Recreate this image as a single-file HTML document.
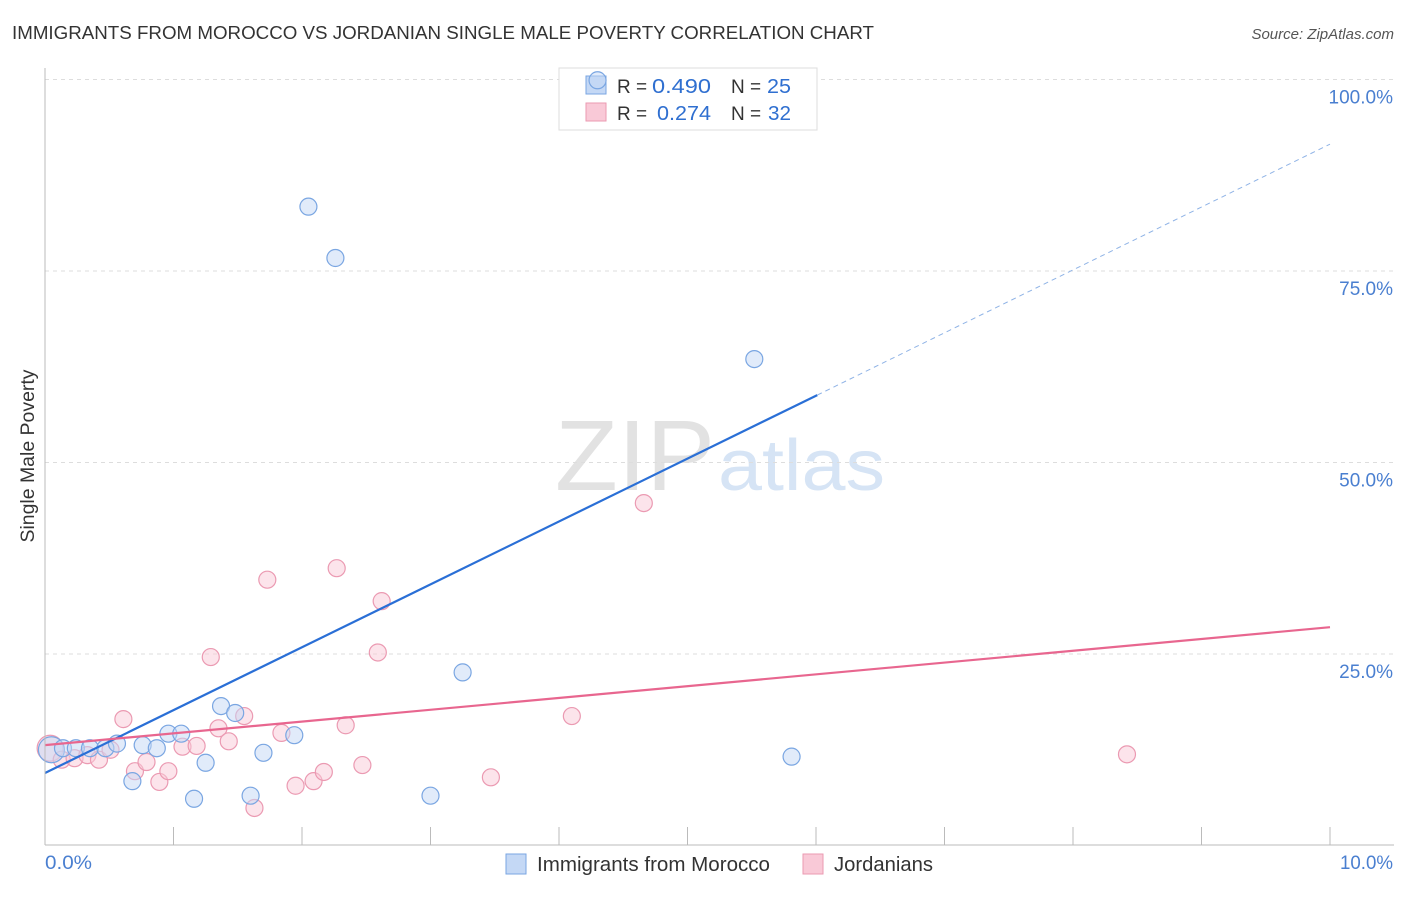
<!DOCTYPE html>
<html><head><meta charset="utf-8"><style>
body{margin:0;background:#fff;font-family:"Liberation Sans",sans-serif;}
svg text{font-family:"Liberation Sans",sans-serif;}
</style></head><body>
<svg id="chart" width="1406" height="892">
<text x="12" y="39" font-size="18" fill="#333" textLength="862" lengthAdjust="spacingAndGlyphs">IMMIGRANTS FROM MOROCCO VS JORDANIAN SINGLE MALE POVERTY CORRELATION CHART</text>
<text x="1394" y="39" font-size="15" fill="#555" font-style="italic" text-anchor="end">Source: ZipAtlas.com</text>
<text x="555" y="490" font-size="100" fill="#e2e2e2" font-family="Liberation Serif" textLength="160" lengthAdjust="spacingAndGlyphs">ZIP</text>
<text x="718" y="490" font-size="72" fill="#d6e4f5" textLength="167" lengthAdjust="spacingAndGlyphs">atlas</text>
<text transform="translate(34,456) rotate(-90)" font-size="19" fill="#333" text-anchor="middle" textLength="173" lengthAdjust="spacingAndGlyphs">Single Male Poverty</text>
<g id="grid"></g>
<g>
<rect x="559" y="68" width="258" height="62" fill="#fff" stroke="#ddd"/>
<rect x="586" y="76" width="20" height="18" fill="#c4d8f5" stroke="#7aa6e2"/>
<rect x="586" y="103" width="20" height="18" fill="#f9c9d7" stroke="#eb9ab2"/>
<text x="617" y="93" font-size="19" fill="#333">R =</text>
<text x="652" y="93" font-size="20" fill="#2f6fd0" textLength="59" lengthAdjust="spacingAndGlyphs">0.490</text>
<text x="731" y="93" font-size="19" fill="#333">N =</text>
<text x="767" y="93" font-size="20" fill="#2f6fd0" textLength="24" lengthAdjust="spacingAndGlyphs">25</text>
<text x="617" y="120" font-size="19" fill="#333">R =</text>
<text x="657" y="120" font-size="20" fill="#2f6fd0" textLength="54" lengthAdjust="spacingAndGlyphs">0.274</text>
<text x="731" y="120" font-size="19" fill="#333">N =</text>
<text x="768" y="120" font-size="20" fill="#2f6fd0" textLength="23" lengthAdjust="spacingAndGlyphs">32</text>
</g>
<g id="marks"></g>
<line x1="45" y1="68" x2="45" y2="845" stroke="#bbb"/>
<line x1="45" y1="845" x2="1394" y2="845" stroke="#bbb"/>
<text x="45" y="869" font-size="19" fill="#4a7fd0" textLength="47" lengthAdjust="spacingAndGlyphs">0.0%</text>
<text x="1340" y="869" font-size="19" fill="#4a7fd0" textLength="53" lengthAdjust="spacingAndGlyphs">10.0%</text>
<g>
<rect x="506" y="854" width="20" height="20" fill="#c4d8f5" stroke="#7aa6e2"/>
<text x="537" y="871" font-size="20" fill="#333" textLength="233" lengthAdjust="spacingAndGlyphs">Immigrants from Morocco</text>
<rect x="803" y="854" width="20" height="20" fill="#f9c9d7" stroke="#eb9ab2"/>
<text x="834" y="871" font-size="20" fill="#333" textLength="99" lengthAdjust="spacingAndGlyphs">Jordanians</text>
</g>
</svg>
<script>
const yTicks=[25,50,75,100];
const yTickLabels=["25.0%","50.0%","75.0%","100.0%"];
const xTicks=[1,2,3,4,5,6,7,8,9,10];
const moroccoX=[0.05,0.14,0.24,0.35,0.47,0.56,0.68,0.76,0.87,0.96,1.06,1.16,1.25,1.37,1.48,1.60,1.70,1.94,2.05,2.26,3.00,3.25,5.52,5.81,4.30];
const moroccoY=[12.5,12.7,12.7,12.7,12.7,13.3,8.4,13.1,12.7,14.6,14.6,6.1,10.8,18.2,17.3,6.5,12.1,14.4,83.4,76.7,6.5,22.6,63.5,11.6,99.9];
const jordanX=[0.04,0.13,0.23,0.33,0.42,0.51,0.61,0.70,0.79,0.89,0.96,1.07,1.18,1.29,1.35,1.43,1.55,1.63,1.73,1.84,1.95,2.09,2.17,2.27,2.34,2.47,2.59,2.62,3.47,4.10,4.66,8.42];
const jordanY=[12.7,11.2,11.4,11.8,11.2,12.5,16.5,9.7,10.9,8.3,9.7,12.9,13.0,24.6,15.3,13.6,16.9,4.9,34.7,14.7,7.8,8.4,9.6,36.2,15.7,10.5,25.2,31.9,8.9,16.9,44.7,11.9];
const moroccoTrend=[9.46,8.21,6.01]; // intercept, slope, solid-until
const jordanTrend=[13.1,1.54];
const NS="http://www.w3.org/2000/svg";
const xs=v=>45+v*128.5, ys=v=>845.5-v*7.66;
function mk(t,a,p){const e=document.createElementNS(NS,t);for(const k in a)e.setAttribute(k,a[k]);p.appendChild(e);return e;}
const grid=document.getElementById('grid'),marks=document.getElementById('marks');
yTicks.forEach((t,i)=>{
 const l=mk('line',{x1:45,x2:1394,y1:ys(t),y2:ys(t),stroke:'#ddd','stroke-dasharray':'4,4'},grid);
 
 
 const tx=mk('text',{x:1393,y:ys(t)+24,'font-size':19,fill:'#4a7fd0','text-anchor':'end'},grid);
 tx.textContent=yTickLabels[i];
 
 
});
xTicks.forEach(t=>{
 const l=mk('line',{x1:xs(t),x2:xs(t),y1:827,y2:845,stroke:'#bbb'},grid);
 
 
});
function pts(X,Y,fill,stroke,name){X.forEach((x,i)=>{
 const c=mk('circle',{cx:xs(x),cy:ys(Y[i]),r:(i==0?13:8.5),fill:fill,'fill-opacity':0.5,stroke:stroke,'stroke-width':1.2},marks);
 
 
});}
pts(jordanX,jordanY,'#f9c9d7','#eb9ab2','jordanian-point');
pts(moroccoX,moroccoY,'#c4d8f5','#7aa6e2','morocco-point');
let l=mk('line',{x1:xs(0),y1:ys(moroccoTrend[0]),x2:xs(moroccoTrend[2]),y2:ys(moroccoTrend[0]+moroccoTrend[1]*moroccoTrend[2]),stroke:'#2a6fd6','stroke-width':2.2},marks);


l=mk('line',{x1:xs(moroccoTrend[2]),y1:ys(moroccoTrend[0]+moroccoTrend[1]*moroccoTrend[2]),x2:xs(10),y2:ys(moroccoTrend[0]+moroccoTrend[1]*10),stroke:'#8fb3e6','stroke-width':1,'stroke-dasharray':'5,4'},marks);


l=mk('line',{x1:xs(0),y1:ys(jordanTrend[0]),x2:xs(10),y2:ys(jordanTrend[0]+jordanTrend[1]*10),stroke:'#e8668f','stroke-width':2.2},marks);


</script>
</body></html>
